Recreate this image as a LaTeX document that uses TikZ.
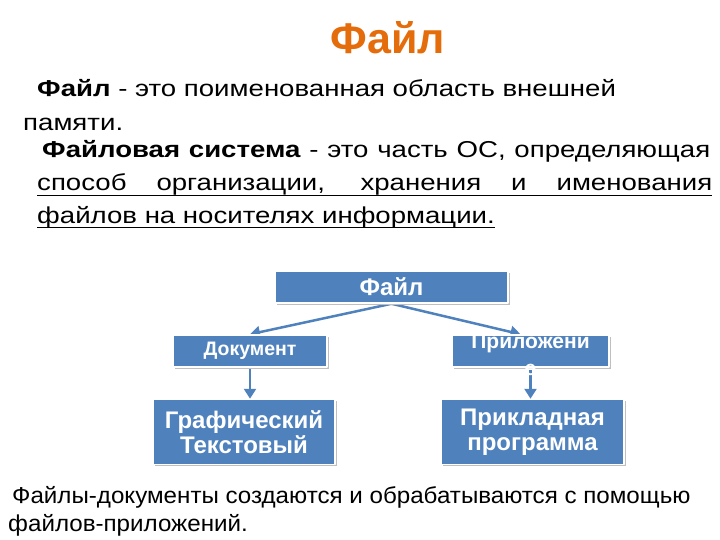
\documentclass[tikz,border=0pt]{standalone}
\usepackage{fontspec}
\setmainfont{Liberation Sans}
\newfontfamily\bodyfont[FakeStretch=1.2]{Liberation Sans}
\newfontfamily\notefont[FakeStretch=1.05]{Liberation Sans}
\usetikzlibrary{arrows.meta,shadows,backgrounds}

\definecolor{boxblue}{HTML}{4F81BD}
\definecolor{titleorange}{HTML}{E46C0A}

% thick underline, as on the slide
\newcommand{\thickul}[1]{\setbox0\hbox{#1}\rlap{\rule[-5.5pt]{\wd0}{1.6pt}}\box0}

\tikzset{
  blockbox/.style={draw=white, line width=1.5pt, fill=boxblue, text=white,
    font=\bfseries\fontsize{24}{25}\selectfont, inner sep=0pt, align=center,
    general shadow={fill=black!25, shadow xshift=1.5pt, shadow yshift=-1.5pt}},
  linkarrow/.style={draw=boxblue, line width=2.5pt,
    -{Triangle[width=12pt,length=10pt]}},
  bodyline/.style={anchor=base west, inner sep=0pt,
    font=\bodyfont\fontsize{23}{27}\selectfont},
  noteline/.style={anchor=base west, inner sep=0pt,
    font=\notefont\fontsize{23}{27}\selectfont}
}

\begin{document}
\begin{tikzpicture}[x=1pt, y=-1pt, line cap=round, line join=round]
    \useasboundingbox (0,0) rectangle (720,540);
    % title
    \node[text=titleorange, font=\bfseries\fontsize{43}{50}\selectfont] (title) at (388,38) {Файл};
    % definitions
    \node[bodyline] (def1) at (37,97) {\textbf{Файл} - это поименованная область внешней};
    \node[bodyline] (def1b) at (23,131) {памяти.};
    \node[bodyline] (def2) at (42,158) {\makebox[668pt][s]{\textbf{Файловая система} - это часть ОС, определяющая}};
    \node[bodyline] (def2b) at (37,191) {\thickul{\makebox[675pt][s]{способ организации, хранения и именования}}};
    \node[bodyline] (def2c) at (37,223) {\thickul{файлов на носителях информации.}};
    % boxes
    \node[blockbox, minimum width=233pt, minimum height=32pt] (file) at (391.5,287) {Файл};
    \node[blockbox, minimum width=154pt, minimum height=32pt, font=\bfseries\fontsize{19.5}{22}\selectfont] (doc) at (250,351) {Документ};
    \node[blockbox, minimum width=157pt, minimum height=32pt,
      label={[text=white, align=center, yshift=-4pt, font=\bfseries\fontsize{21}{27}\selectfont]center:Приложени\\е}] (app) at (530.5,351) {};
    \node[blockbox, minimum width=182pt, minimum height=65pt] (graph) at (244,432) {Графический\\Текстовый};
    \node[blockbox, minimum width=183pt, minimum height=65pt] (prog) at (532.5,432) {Прикладная\\программа};
    % arrows, kept under the box texts
    \begin{pgfonlayer}{background}
        \draw[linkarrow] (file.south) -- (doc.north);
        \draw[linkarrow] (file.south) -- ([xshift=-10pt]app.north);
        \draw[linkarrow] (doc.south) -- (doc.south |- graph.north);
        \draw[linkarrow] (app.south) -- (app.south |- prog.north);
    \end{pgfonlayer}
    % note
    \node[noteline] (note1) at (12,503) {Файлы-документы создаются и обрабатываются с помощью};
    \node[noteline] (note2) at (8,531) {файлов-приложений.};
\end{tikzpicture}
\end{document}
